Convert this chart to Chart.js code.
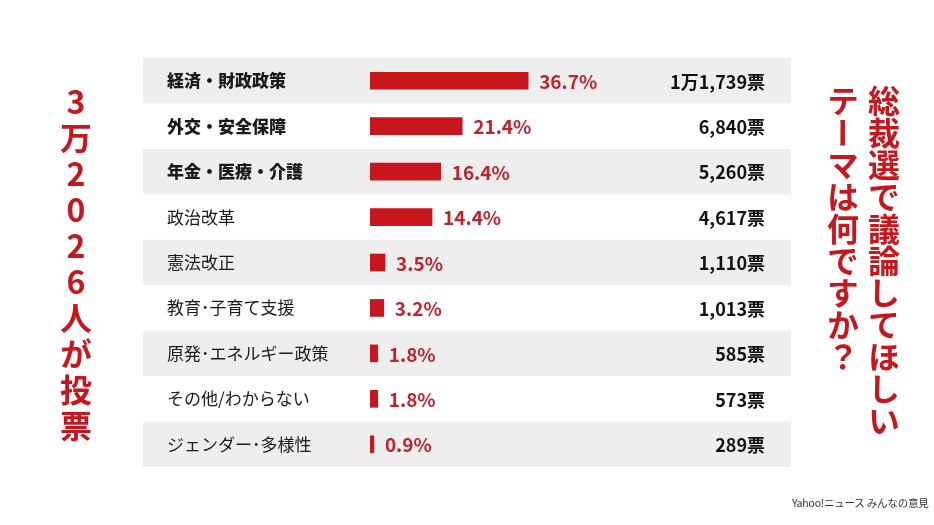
<!DOCTYPE html>
<html lang="ja">
<head>
<meta charset="utf-8">
<script src="https://cdn.jsdelivr.net/npm/chart.js@4.4.1/dist/chart.umd.min.js"></script>
<style>
  html, body { margin: 0; padding: 0; background: #fff; }
  body { width: 934px; height: 525px; position: relative; overflow: hidden;
         font-family: "Noto Sans CJK JP", "Noto Sans", sans-serif; }
  #wrap { position: absolute; left: 0; top: 0; width: 934px; height: 525px; }
  .vt { position: absolute; writing-mode: vertical-rl; color: #c8161d;
        font-weight: 700; font-size: 32px; line-height: 1; white-space: nowrap; }
  #count { left: 60px; top: 86px; text-orientation: upright; letter-spacing: 4px; font-size: 32px; }
  #q1 { left: 868px; top: 85px; }
  #q2 { left: 827px; top: 85px; }
  #credit { position: absolute; left: 792px; top: 495px; font-size: 10.5px; color: #333;
            white-space: nowrap; letter-spacing: -0.2px; }
</style>
</head>
<body>
<div id="wrap"><canvas id="chart" width="934" height="525"></canvas></div>
<div class="vt" id="count">3万2026人が投票</div>
<div class="vt" id="q1">総裁選で議論してほしい</div>
<div class="vt" id="q2">テーマは何ですか？</div>
<div id="credit">Yahoo!ニュース みんなの意見</div>
<script>
// survey results
const categories = ['経済・財政政策', '外交・安全保障', '年金・医療・介護', '政治改革', '憲法改正',
  '教育･子育て支援', '原発･エネルギー政策', 'その他/わからない', 'ジェンダー･多様性'];
const percents = [36.7, 21.4, 16.4, 14.4, 3.5, 3.2, 1.8, 1.8, 0.9];
const votes = [11739, 6840, 5260, 4617, 1110, 1013, 585, 573, 289];
const boldRows = 3;

const RED = '#c8161d';
const FONT = '"Noto Sans CJK JP", "Noto Sans", sans-serif';

function fmtVotes(v) {
  if (v >= 10000) {
    return Math.floor(v / 10000) + '万' + (v % 10000).toLocaleString('en-US') + '票';
  }
  return v.toLocaleString('en-US') + '票';
}

// grey stripes behind every other row
const stripes = {
  id: 'stripes',
  beforeDraw(chart) {
    const { ctx, scales: { y } } = chart;
    const step = y.getPixelForValue(1) - y.getPixelForValue(0);
    ctx.save();
    ctx.fillStyle = '#eeeeee';
    categories.forEach((c, i) => {
      if (i % 2) return;
      const cy = y.getPixelForValue(i);
      ctx.fillRect(143, cy - step / 2, 648, step);
    });
    ctx.restore();
  }
};

// percent after bar, vote count on the right
const valueLabels = {
  id: 'valueLabels',
  afterDatasetsDraw(chart) {
    const { ctx } = chart;
    const meta = chart.getDatasetMeta(0);
    ctx.save();
    ctx.textBaseline = 'middle';
    meta.data.forEach((bar, i) => {
      ctx.fillStyle = '#c0222c';
      ctx.font = '600 19px ' + FONT;
      ctx.textAlign = 'left';
      ctx.fillText(percents[i].toFixed(1) + '%', bar.x + 11, bar.y + 1);
      ctx.fillStyle = '#111';
      ctx.font = '700 18px ' + FONT;
      ctx.textAlign = 'right';
      ctx.fillText(fmtVotes(votes[i]), 765, bar.y + 1);
    });
    ctx.restore();
  }
};

new Chart(document.getElementById('chart'), {
  type: 'bar',
  data: {
    labels: categories,
    datasets: [{
      data: percents,
      backgroundColor: RED,
      barThickness: 17,
      borderWidth: 0
    }]
  },
  options: {
    indexAxis: 'y',
    responsive: false,
    animation: false,
    layout: { padding: { left: 167, right: 143, top: 58, bottom: 58 } },
    plugins: { legend: { display: false }, tooltip: { enabled: false } },
    scales: {
      x: { display: false, min: 0, max: 97.7 },
      y: {
        grid: { display: false },
        border: { display: false },
        afterFit(scale) { scale.width = 203; },
        ticks: {
          crossAlign: 'far',
          color: '#1a1a1a',
          font: c => ({ family: FONT, size: 17, weight: c.index < boldRows ? '900' : '400' })
        }
      }
    }
  },
  plugins: [stripes, valueLabels]
});
</script>
</body>
</html>
